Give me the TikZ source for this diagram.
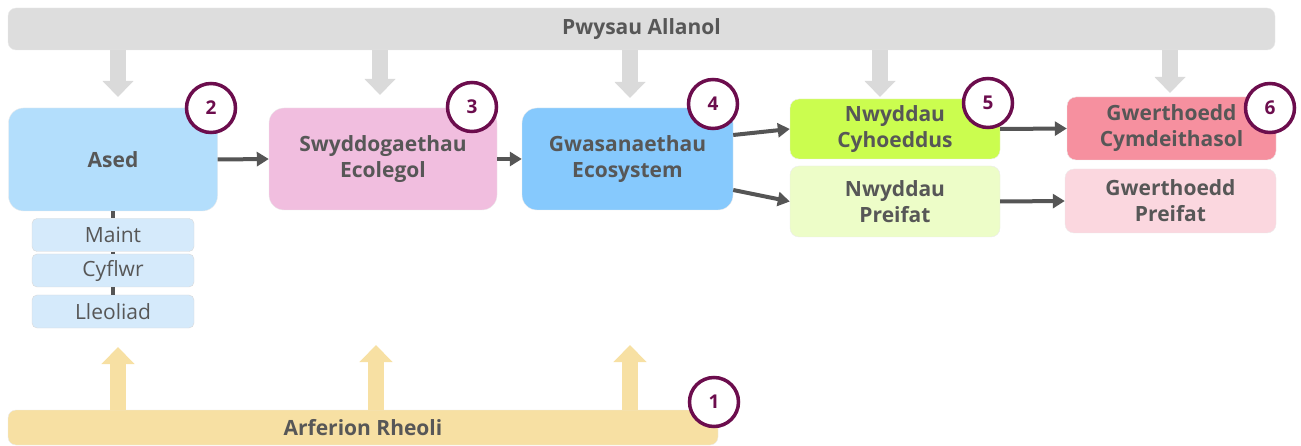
\documentclass[tikz,border=0pt]{standalone}
\usepackage{fontspec}
\setmainfont{Open Sans}
\usetikzlibrary{arrows.meta}

\definecolor{barGray}{HTML}{DDDDDD}
\definecolor{pressGray}{HTML}{DADADA}
\definecolor{practiceTan}{HTML}{F7E0A3}
\definecolor{assetBlue}{HTML}{B3DEFC}
\definecolor{ecoPink}{HTML}{F1BEDF}
\definecolor{ecoBlue}{HTML}{86C9FD}
\definecolor{publicLime}{HTML}{CBFD4F}
\definecolor{privateLime}{HTML}{EDFDC8}
\definecolor{socialRed}{HTML}{F6909F}
\definecolor{privatePink}{HTML}{FBD7DF}
\definecolor{subBlue}{HTML}{D5EAFB}
\definecolor{numPurple}{HTML}{6C0D4D}
\definecolor{textGray}{HTML}{575757}
\definecolor{linkGray}{HTML}{555555}

\begin{document}
\begin{tikzpicture}[x=1pt,y=-1pt,
  box/.style={rounded corners=15pt,draw=black!8,text=textGray,align=center,
    font=\fontsize{21}{26}\selectfont\bfseries,inner sep=0pt},
  subbox/.style={rounded corners=5pt,draw=black!15,fill=subBlue,text=textGray,
    minimum width=162pt,minimum height=33pt,inner sep=0pt,font=\fontsize{21}{25}\selectfont},
  num/.style={circle,draw=numPurple,line width=3.5pt,fill=white,minimum size=49pt,
    inner sep=0pt,text=numPurple,font=\fontsize{19}{21}\selectfont\bfseries},
  flow/.style={draw=linkGray,line width=4pt,-{Triangle[length=12pt,width=14pt]}},
  pressarrow/.style={draw=pressGray,line width=16pt,-{Triangle[length=16pt,width=30pt]}},
  practicearrow/.style={draw=practiceTan,line width=16pt,-{Triangle[length=17pt,width=32pt]}}]
\useasboundingbox (0,0) rectangle (1301,446);

% bars
\node[box,fill=barGray,rounded corners=8pt,minimum width=1267pt,minimum height=42pt] (pressure) at (641.5,29) {Pwysau Allanol};
\node[box,fill=practiceTan,rounded corners=8pt,minimum width=710pt,minimum height=35pt] (practice) at (363,427.5) {Arferion Rheoli};

% main boxes
\node[box,fill=assetBlue,minimum width=209pt,minimum height=103pt] (ased) at (113,159.5) {Ased};
\node[box,fill=ecoPink,minimum width=228pt,minimum height=102pt] (ecolegol) at (383,159) {Swyddogaethau\\Ecolegol};
\node[box,fill=ecoBlue,minimum width=211pt,minimum height=102pt] (ecosystem) at (627.5,159) {Gwasanaethau\\Ecosystem};
\node[box,fill=publicLime,rounded corners=9pt,minimum width=210pt,minimum height=60pt] (cyhoeddus) at (895,129) {Nwyddau\\Cyhoeddus};
\node[box,fill=privateLime,rounded corners=9pt,minimum width=210pt,minimum height=71pt] (nwpreifat) at (895,201.5) {Nwyddau\\Preifat};
\node[box,fill=socialRed,rounded corners=9pt,minimum width=209pt,minimum height=63pt] (cymdeithasol) at (1171.5,128.5) {Gwerthoedd\\Cymdeithasol};
\node[box,fill=privatePink,rounded corners=9pt,minimum width=211pt,minimum height=64pt] (gwpreifat) at (1170.5,201) {Gwerthoedd\\Preifat};

% asset attributes
\node[subbox] (maint) at (113,235) {Maint};
\node[subbox] (cyflwr) at (113,270.5) {Cyflwr};
\node[subbox] (lleoliad) at (113,311.5) {Lleoliad};
\draw[linkGray,line width=4pt] (ased.south) -- (maint.north);
\draw[linkGray,line width=4pt] (maint.south) -- (cyflwr.north);
\draw[linkGray,line width=4pt] (cyflwr.south) -- (lleoliad.north);

% external pressures
\coordinate (p1) at (118,97);
\coordinate (p2) at (380,95);
\coordinate (p3) at (630,98);
\coordinate (p4) at (880,97);
\coordinate (p5) at (1170,93);
\foreach \p in {p1,p2,p3,p4,p5}
  \draw[pressarrow] (pressure.south -| \p) -- (\p);

% management practices
\coordinate (m1) at (118,347);
\coordinate (m2) at (376,345);
\coordinate (m3) at (630,345);
\foreach \m in {m1,m2,m3}
  \draw[practicearrow] (practice.north -| \m) -- (\m);

% flows
\draw[flow] (ased.east) -- (ecolegol.west);
\draw[flow] (ecolegol.east) -- (ecosystem.west);
\draw[flow] ([yshift=24pt]ecosystem.east) -- (cyhoeddus.west);
\draw[flow] ([yshift=-31pt]ecosystem.east) -- (nwpreifat.west);
\draw[flow] (cyhoeddus.east) -- (cymdeithasol.west);
\draw[flow] (nwpreifat.east) -- (gwpreifat.west);

% numbers
\node[num] (n1) at (714,402) {1};
\node[num] (n2) at (211,108) {2};
\node[num] (n3) at (472,107) {3};
\node[num] (n4) at (713,104) {4};
\node[num] (n5) at (988,103) {5};
\node[num] (n6) at (1270,108) {6};
\end{tikzpicture}
\end{document}
